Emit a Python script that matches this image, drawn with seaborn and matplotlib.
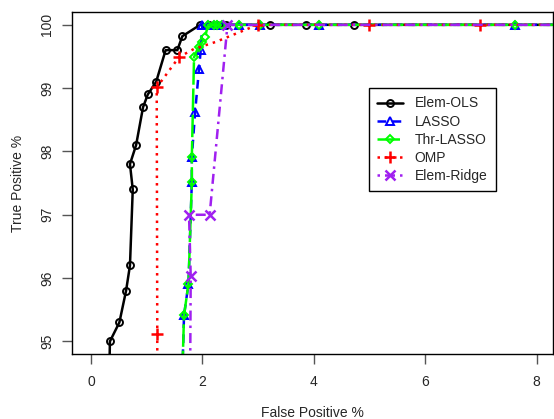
import numpy as np
import pandas as pd
import matplotlib
matplotlib.use("Agg")
import matplotlib.pyplot as plt
import seaborn as sns

# data (false positive %, true positive %)
ols_fp = [0.33, 0.34, 0.51, 0.63, 0.70, 0.75, 0.70, 0.81, 0.935, 1.02, 1.17, 1.34, 1.55, 1.64,
          1.96, 2.12, 2.27, 2.42, 3.21, 3.86, 4.72, 9.0]
ols_tp = [94.5, 95.0, 95.3, 95.8, 96.2, 97.4, 97.8, 98.1, 98.7, 98.9, 99.1, 99.6, 99.6, 99.82,
          100, 100, 100, 100, 100, 100, 100, 100]

lasso_fp = [1.64, 1.67, 1.75, 1.81, 1.81, 1.87, 1.94, 1.97, 2.0, 2.1, 2.2, 2.27, 2.36, 2.66,
            3.03, 4.09, 7.61, 9.0]
lasso_tp = [94.5, 95.41, 95.91, 97.51, 97.91, 98.63, 99.31, 99.6, 100, 100, 100, 100, 100, 100,
            100, 100, 100, 100]

thr_fp = [1.64, 1.67, 1.75, 1.81, 1.81, 1.85, 1.93, 2.0, 2.05, 2.1, 2.2, 2.27, 2.36, 2.66,
          3.03, 4.09, 7.61, 9.0]
thr_tp = [94.5, 95.41, 95.91, 97.51, 97.91, 99.49, 99.65, 99.73, 99.81, 100, 100, 100, 100, 100,
          100, 100, 100, 100]

omp_fp = [1.19, 1.19, 1.18, 1.58, 1.85, 2.24, 2.6, 2.99, 4.99, 6.98, 9.0]
omp_tp = [94.5, 95.11, 99.01, 99.49, 99.62, 99.73, 99.86, 100, 100, 100, 100]
omp_marked = [1, 2, 3, 7, 8, 9]

ridge_fp = [1.78, 1.79, 1.76, 2.13, 2.45, 9.0]
ridge_tp = [94.5, 96.03, 97.0, 97.0, 100, 100]

series = [
    ("Elem-OLS", ols_fp, ols_tp, "black", "o", 5, (None, None), None),
    ("LASSO", lasso_fp, lasso_tp, "#0000FF", "^", 5.5, (3.5, 2.5), None),
    ("Thr-LASSO", thr_fp, thr_tp, "#00FF00", "D", 4.5, (9, 1.5), None),
    ("OMP", omp_fp, omp_tp, "#FF0000", "+", 8, (1, 2), omp_marked),
    ("Elem-Ridge", ridge_fp, ridge_tp, "#A020F0", "x", 6.5, (1, 2, 4, 2), None),
]

sns.set_style("ticks")
plt.rcParams['font.family'] = ['Liberation Sans', 'DejaVu Sans']

fig = plt.figure(figsize=(5.54, 4.19), dpi=100)
ax = fig.add_axes([0.130, 0.155, 0.868, 0.816])

for name, fp, tp, col, mk, ms, dash, mev in series:
    df = pd.DataFrame({"fp": fp, "tp": tp})
    kw = dict(markevery=mev) if mev is not None else {}
    sns.lineplot(data=df, x="fp", y="tp", sort=False, estimator=None, ax=ax,
                 color=col, marker=mk, markersize=ms,
                 markeredgewidth=1.8 if mk in "+x" else 1.4, markerfacecolor="none",
                 markeredgecolor=col, linewidth=1.8, label=name, **kw)
    line = ax.lines[-1]
    if dash[0] is not None:
        line.set_dashes(dash)

ax.set_xlim(-0.34, 8.29)
ax.set_ylim(94.8, 100.2)
ax.set_xticks([0, 2, 4, 6, 8])
ax.set_yticks([95, 96, 97, 98, 99, 100])
ax.tick_params(axis="both", direction="out", length=7, width=1, labelsize=10,
               color="#555555", pad=6)
ax.tick_params(axis="x", pad=8)
for lab in ax.get_yticklabels():
    lab.set_rotation(90)
    lab.set_va("center")
for sp in ax.spines.values():
    sp.set_visible(True)
    sp.set_linewidth(1)
    sp.set_color("black")

ax.set_xlabel("False Positive %", fontsize=10, labelpad=12)
ax.set_ylabel("True Positive %", fontsize=10, labelpad=11)

leg = ax.legend(loc="upper left", bbox_to_anchor=(0.617, 0.778), fontsize=10,
                frameon=True, fancybox=False, edgecolor="black", framealpha=1,
                handlelength=1.9, handletextpad=0.8, labelspacing=0.3,
                borderpad=0.6, borderaxespad=0)
leg.get_frame().set_linewidth(1)

fig.savefig("out.png", dpi=100)
